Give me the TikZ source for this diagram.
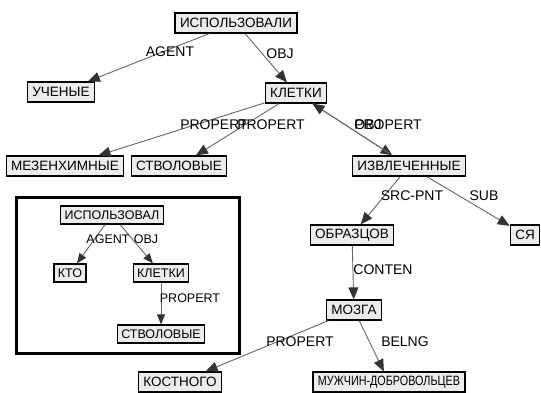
\documentclass[tikz,border=0pt]{standalone}
\usepackage{fontspec}
\usepackage{graphicx}
\setmainfont{Liberation Sans}
\usetikzlibrary{arrows.meta}
\definecolor{edgegray}{HTML}{666666}
\definecolor{tipgray}{HTML}{333333}
\definecolor{boxfill}{HTML}{ECECEC}
\tikzset{
  wbox/.style={draw=black, line width=1.2pt, fill=boxfill, inner xsep=5pt, inner ysep=0pt,
    minimum height=20pt, font=\fontsize{13.5}{14}\selectfont},
  ibox/.style={wbox, minimum height=18pt, inner xsep=4pt, font=\fontsize{12.5}{13}\selectfont},
  rel/.style={draw=edgegray, line width=0.9pt, -{Triangle[length=12pt,width=10pt,fill=tipgray,color=tipgray]}},
  irel/.style={rel, -{Triangle[length=10pt,width=8pt,fill=tipgray,color=tipgray]}},
  lbl/.style={inner sep=0pt, font=\fontsize{14}{14}\selectfont},
  ilbl/.style={inner sep=0pt, font=\fontsize{12.5}{13}\selectfont},
}
\begin{document}
\begin{tikzpicture}[x=1pt,y=-1pt]
\useasboundingbox (0,0) rectangle (541,392);
\fill[white] (0,0) rectangle (541,392);
% main graph
\node[wbox] (isp) at (236,23) {ИСПОЛЬЗОВАЛИ};
\node[wbox] (uch) at (61,92) {УЧЕНЫЕ};
\node[wbox] (kl) at (296,93) {КЛЕТКИ};
\node[wbox] (mez) at (65,166) {МЕЗЕНХИМНЫЕ};
\node[wbox] (stv) at (179,166) {СТВОЛОВЫЕ};
\node[wbox] (izv) at (409,166) {ИЗВЛЕЧЕННЫЕ};
\node[wbox] (obr) at (352,235) {ОБРАЗЦОВ};
\node[wbox] (sya) at (525,235) {СЯ};
\node[wbox] (mzg) at (354,310) {МОЗГА};
\node[wbox] (kos) at (180,382) {КОСТНОГО};
\node[wbox] (muz) at (389,382) {\scalebox{0.8}[1]{МУЖЧИН-ДОБРОВОЛЬЦЕВ}};

\draw[rel] (isp) -- (uch);
\draw[rel] (isp) -- (kl);
\draw[rel] (kl) -- (mez);
\draw[rel] (kl) -- (stv);
\draw[rel] (kl) -- (izv);
\draw[rel] (izv) -- (kl);
\draw[rel] (izv) -- (obr);
\draw[rel] (izv) -- (sya);
\draw[rel] (obr) -- (mzg);
\draw[rel] (mzg) -- (kos);
\draw[rel] (mzg) -- (muz);

\node[lbl] (l1) at (170,52) {AGENT};
\node[lbl] (l2) at (280,54) {OBJ};
\node[lbl] (l3) at (214,125) {PROPERT};
\node[lbl] (l4) at (271,125) {PROPERT};
\node[lbl] (l5) at (368,125) {OBJ};
\node[lbl] (l6) at (388,125) {PROPERT};
\node[lbl] (l7) at (412,196) {SRC-PNT};
\node[lbl] (l8) at (484,196) {SUB};
\node[lbl] (l9) at (383,270) {CONTEN};
\node[lbl] (l10) at (300,342) {PROPERT};
\node[lbl] (l11) at (405,342) {BELNG};

% inset
\draw[black, line width=3pt] (16,197) rectangle (239,353);
\node[ibox] (i1) at (112,215) {ИСПОЛЬЗОВАЛ};
\node[ibox] (i2) at (70,273) {КТО};
\node[ibox] (i3) at (161,273) {КЛЕТКИ};
\node[ibox] (i4) at (161,334) {СТВОЛОВЫЕ};
\draw[irel] (i1) -- (i2);
\draw[irel] (i1) -- (i3);
\draw[irel] (i3) -- (i4);
\node[ilbl] (il1) at (108,239) {AGENT};
\node[ilbl] (il2) at (146,239) {OBJ};
\node[ilbl] (il3) at (190,298) {PROPERT};
\end{tikzpicture}
\end{document}
